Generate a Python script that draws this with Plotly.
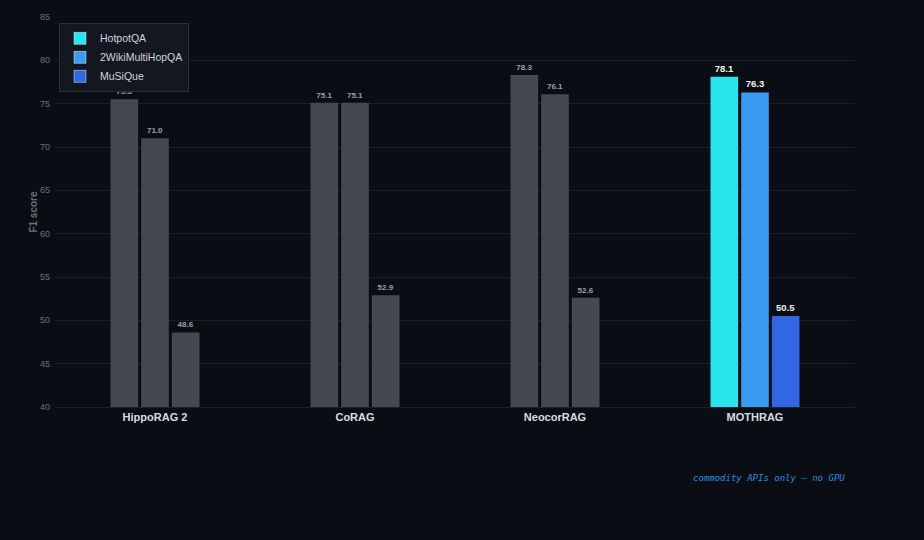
import plotly.graph_objects as go

categories = ["HippoRAG 2", "CoRAG", "NeocorRAG", "MOTHRAG"]
series = ["HotpotQA", "2WikiMultiHopQA", "MuSiQue"]
hotpot = [75.5, 75.1, 78.3, 78.1]
wiki = [71.0, 75.1, 76.1, 76.3]
musique = [48.6, 52.9, 52.6, 50.5]
series_colors = ["#2ae4ee", "#3a9cf0", "#3266e2"]
grey = "#434853"

fig = go.Figure()
for i, (name, vals, col) in enumerate(zip(series, [hotpot, wiki, musique], series_colors)):
    colors = [grey, grey, grey, col]
    tcolors = ["#9aa0aa"] * 3 + ["#f0f2f5"]
    fig.add_trace(go.Bar(
        x=categories, y=vals, name=name, showlegend=False, offsetgroup=str(i),
        marker=dict(color=colors, line=dict(width=0)),
        text=[f"<b>{v:.1f}</b>" for v in vals], textposition="outside",
        textfont=dict(color=tcolors, size=[8, 8, 8, 9.5], family="Liberation Sans"),
        cliponaxis=False,
    ))
for i, (name, col) in enumerate(zip(series, series_colors)):
    fig.add_trace(go.Bar(x=[categories[0]], y=[None], name=name, offsetgroup=str(i),
                         marker=dict(color=col), showlegend=True))

fig.update_layout(
    width=924, height=540, barmode="group", bargap=0.54, bargroupgap=0.1,
    paper_bgcolor="#0a0e14", plot_bgcolor="#0a0e14",
    margin=dict(l=55, r=69, t=17, b=133),
    font=dict(family="Liberation Sans", color="#c8ccd4"),
    xaxis=dict(showgrid=False, tickfont=dict(size=11, color="#d8dce2"),
               tickvals=categories, ticktext=[f"<b>{c}</b>" for c in categories],
               showline=True, linecolor="#1c222b"),
    yaxis=dict(range=[40, 85], dtick=5, gridcolor="#1a1f28", zeroline=False,
               tickfont=dict(size=9, color="#6b717c"), ticks="", ticklabelstandoff=4,
               title=dict(text="<b>F1 score</b>", font=dict(size=10, color="#6b717c"), standoff=0)),
    legend=dict(x=0.005, y=0.985, xanchor="left", yanchor="top",
                bgcolor="#131820", bordercolor="#2a303a", borderwidth=1,
                font=dict(size=10.5, color="#d0d4da"), tracegroupgap=6),
    showlegend=True,
)
fig.add_annotation(text="<i>commodity APIs only — no GPU</i>", xref="paper", yref="paper",
                   x=0.99, y=-0.2, xanchor="right", showarrow=False,
                   font=dict(family="DejaVu Sans Mono", size=9, color="#2d8ce0"))
fig.write_html("out.html", config={"displayModeBar": False})

with open("out.html", encoding="utf-8") as f:
    html = f.read()
html = html.replace("<head>", "<head><style>html,body{margin:0;padding:0;background:#0a0e14;}</style>", 1)
with open("out.html", "w", encoding="utf-8") as f:
    f.write(html)
